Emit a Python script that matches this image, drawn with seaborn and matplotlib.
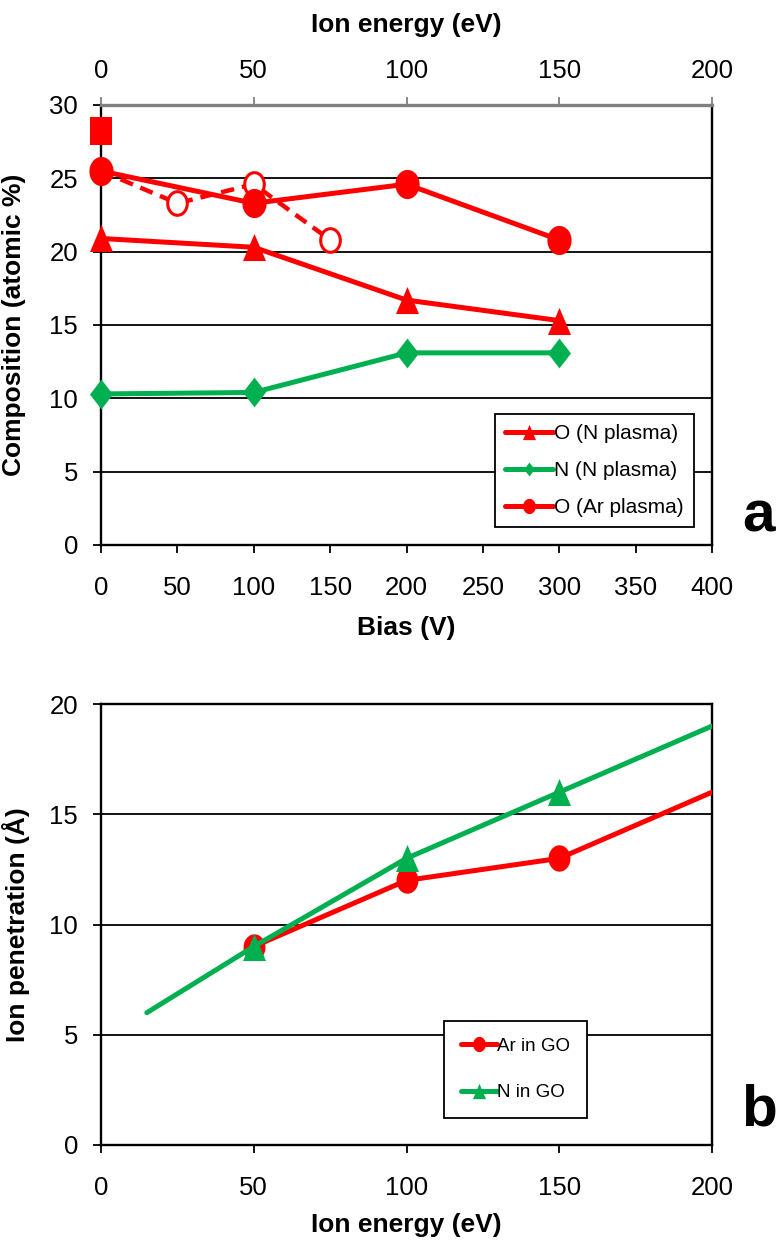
import matplotlib
matplotlib.use("Agg")
import matplotlib.pyplot as plt
from matplotlib.lines import Line2D
from matplotlib.path import Path
import numpy as np
import seaborn as sns

sns.set_theme(style="white")
plt.rcParams['font.family'] = ['Liberation Sans', 'DejaVu Sans']
plt.rcParams['text.color'] = 'black'
plt.rcParams['axes.labelcolor'] = 'black'
plt.rcParams['xtick.color'] = 'black'
plt.rcParams['ytick.color'] = 'black'

RED = "#FF0000"
GREEN = "#00B050"

# ---- Panel a data ----
bias = [0, 100, 200, 300]
o_n_plasma = [20.9, 20.3, 16.7, 15.3]
n_n_plasma = [10.3, 10.4, 13.1, 13.1]
o_ar_plasma = [25.5, 23.3, 24.6, 20.8]
bias_open = [0, 50, 100, 150]
o_ar_open = [25.5, 23.3, 24.6, 20.8]
square_x = [0]
square_y = [28.2]
top_ticks_energy = [0, 50, 100, 150, 200]
legend_a = ["O (N plasma)", "N (N plasma)", "O (Ar plasma)"]

# ---- Panel b data ----
energy_ar = [50, 100, 150, 200]
pen_ar = [9, 12, 13, 16]
energy_n = [15, 50, 100, 150, 200]
pen_n = [6, 9, 13, 16, 19]
legend_b = ["Ar in GO", "N in GO"]


# slightly tall marker shapes (the reference is stretched vertically)
def ellipse(ratio):
    t = np.linspace(0, 2 * np.pi, 60)
    return Path(np.column_stack([ratio * np.cos(t), np.sin(t)]), closed=True)


def tri(ratio):
    return Path([(-ratio, -1), (ratio, -1), (0, 1), (-ratio, -1)], closed=True)


def diamond(ratio):
    return Path([(0, -1), (ratio, 0), (0, 1), (-ratio, 0), (0, -1)], closed=True)


def square(ratio):
    return Path([(-ratio, -1), (ratio, -1), (ratio, 1), (-ratio, 1), (-ratio, -1)], closed=True)


CIRC = ellipse(0.83)
TRI = tri(0.85)
DIA = diamond(0.77)
SQ = square(0.78)

fig = plt.figure(figsize=(7.77, 12.43), dpi=100)
axA = fig.add_axes([101 / 777, 1 - 545 / 1243, 611 / 777, 440 / 1243])
axB = fig.add_axes([101 / 777, 1 - 1145 / 1243, 611 / 777, 441 / 1243])

LW = 3.6
TICKFS = 18.5
LABFS = 19

# ---------------- Panel a ----------------
sns.lineplot(x=bias_open, y=o_ar_open, ax=axA, color=RED, linewidth=3.2,
             linestyle=(0, (3.0, 1.8)), marker=CIRC, markersize=17,
             markerfacecolor='white', markeredgecolor=RED, markeredgewidth=2.2,
             markevery=[1, 2, 3], zorder=3, clip_on=False)
sns.lineplot(x=bias, y=o_n_plasma, ax=axA, color=RED, linewidth=LW, marker=TRI,
             markersize=19.5, markeredgewidth=0, zorder=4, clip_on=False)
sns.lineplot(x=bias, y=n_n_plasma, ax=axA, color=GREEN, linewidth=LW, marker=DIA,
             markersize=21.5, markeredgewidth=0, zorder=4, clip_on=False)
sns.lineplot(x=bias, y=o_ar_plasma, ax=axA, color=RED, linewidth=LW, marker=CIRC,
             markersize=21, markeredgewidth=0, zorder=5, clip_on=False)
sns.lineplot(x=square_x, y=square_y, ax=axA, color=RED, linewidth=0, marker=SQ,
             markersize=19.5, markeredgewidth=0, zorder=6, clip_on=False)

axA.set_xlim(0, 400)
axA.set_ylim(0, 30)
axA.set_xticks(range(0, 401, 50))
axA.set_yticks(range(0, 31, 5))
axA.yaxis.grid(True, color='black', linewidth=1.3)
axA.xaxis.grid(False)
axA.set_axisbelow(True)
axA.set_xlabel("Bias (V)", fontsize=LABFS, fontweight='bold')
axA.set_ylabel("Composition (atomic %)", fontsize=LABFS, fontweight='bold')
axA.xaxis.label.set_va('center')
axA.yaxis.label.set_va('center')
axA.xaxis.set_label_coords(0.5, (545 - 628) / 440)
axA.yaxis.set_label_coords((14 - 101) / 611, 0.5)
axA.tick_params(axis='x', labelsize=TICKFS, direction='out', length=5.5, width=1.3,
                color='black', bottom=True, pad=16.5)
axA.tick_params(axis='y', labelsize=TICKFS, direction='out', length=5.5, width=1.3,
                color='black', left=True, pad=11)
for s in ['left', 'bottom', 'right']:
    axA.spines[s].set_color('black')
    axA.spines[s].set_linewidth(1.7)
axA.spines['top'].set_color('#808080')
axA.spines['top'].set_linewidth(2.4)

axT = axA.twiny()
axT.set_xlim(0, 200)
axT.set_xticks(top_ticks_energy)
axT.tick_params(axis='x', labelsize=TICKFS, direction='out', length=5.5, width=1.3,
                color='#808080', labelcolor='black', top=True, pad=10.5)
axT.set_xlabel("Ion energy (eV)", fontsize=LABFS, fontweight='bold')
axT.xaxis.label.set_va('center')
axT.xaxis.set_label_coords(0.5, (545 - 25) / 440)
for s in axT.spines.values():
    s.set_visible(False)

handles_a = [
    Line2D([0], [0], color=RED, lw=LW, marker=TRI, markersize=11, markeredgewidth=0),
    Line2D([0], [0], color=GREEN, lw=LW, marker=DIA, markersize=10, markeredgewidth=0),
    Line2D([0], [0], color=RED, lw=LW, marker=CIRC, markersize=11, markeredgewidth=0),
]
lg = axA.legend(handles_a, legend_a, loc='upper left',
                bbox_to_anchor=(495 / 777, 1 - 414 / 1243), bbox_transform=fig.transFigure,
                fontsize=15, frameon=True, fancybox=False, edgecolor='black',
                handlelength=2.3, handletextpad=0.05, labelspacing=0.85,
                borderpad=0.5, borderaxespad=0, framealpha=1)
lg.get_frame().set_linewidth(1.3)

fig.text(759 / 777, 1 - 532 / 1243, "a", fontsize=42, fontweight='bold',
         ha='center', va='baseline')

# ---------------- Panel b ----------------
sns.lineplot(x=energy_ar, y=pen_ar, ax=axB, color=RED, linewidth=LW, marker=CIRC,
             markersize=19, markeredgewidth=0, markevery=[0, 1, 2], zorder=3)
sns.lineplot(x=energy_n, y=pen_n, ax=axB, color=GREEN, linewidth=LW, marker=TRI,
             markersize=19.5, markeredgewidth=0, markevery=[1, 2, 3], zorder=4,
             solid_capstyle='round')
axB.set_xlim(0, 200)
axB.set_ylim(0, 20)
axB.set_xticks(range(0, 201, 50))
axB.set_yticks(range(0, 21, 5))
axB.yaxis.grid(True, color='black', linewidth=1.3)
axB.xaxis.grid(False)
axB.set_axisbelow(True)
axB.set_xlabel("Ion energy (eV)", fontsize=LABFS, fontweight='bold')
axB.set_ylabel("Ion penetration (Å)", fontsize=LABFS, fontweight='bold')
axB.xaxis.label.set_va('center')
axB.yaxis.label.set_va('center')
axB.xaxis.set_label_coords(0.5, (1145 - 1225) / 441)
axB.yaxis.set_label_coords((16 - 101) / 611, 0.5)
axB.tick_params(axis='x', labelsize=TICKFS, direction='out', length=5.5, width=1.3,
                color='black', bottom=True, pad=16.5)
axB.tick_params(axis='y', labelsize=TICKFS, direction='out', length=5.5, width=1.3,
                color='black', left=True, pad=11)
for s in axB.spines.values():
    s.set_color('black')
    s.set_linewidth(1.7)

handles_b = [
    Line2D([0], [0], color=RED, lw=LW, marker=CIRC, markersize=11, markeredgewidth=0),
    Line2D([0], [0], color=GREEN, lw=LW, marker=TRI, markersize=11, markeredgewidth=0),
]
lgb = axB.legend(handles_b, legend_b, loc='upper left',
                 bbox_to_anchor=(444 / 777, 1 - 1021 / 1243), bbox_transform=fig.transFigure,
                 fontsize=13.5, frameon=True, fancybox=False, edgecolor='black',
                 handlelength=1.9, handletextpad=0.05, labelspacing=1.55,
                 borderpad=0.9, borderaxespad=0, framealpha=1)
lgb.get_frame().set_linewidth(1.3)

fig.text(759 / 777, 1 - 1125 / 1243, "b", fontsize=42, fontweight='bold',
         ha='center', va='baseline')

fig.savefig("out.png", dpi=100)
